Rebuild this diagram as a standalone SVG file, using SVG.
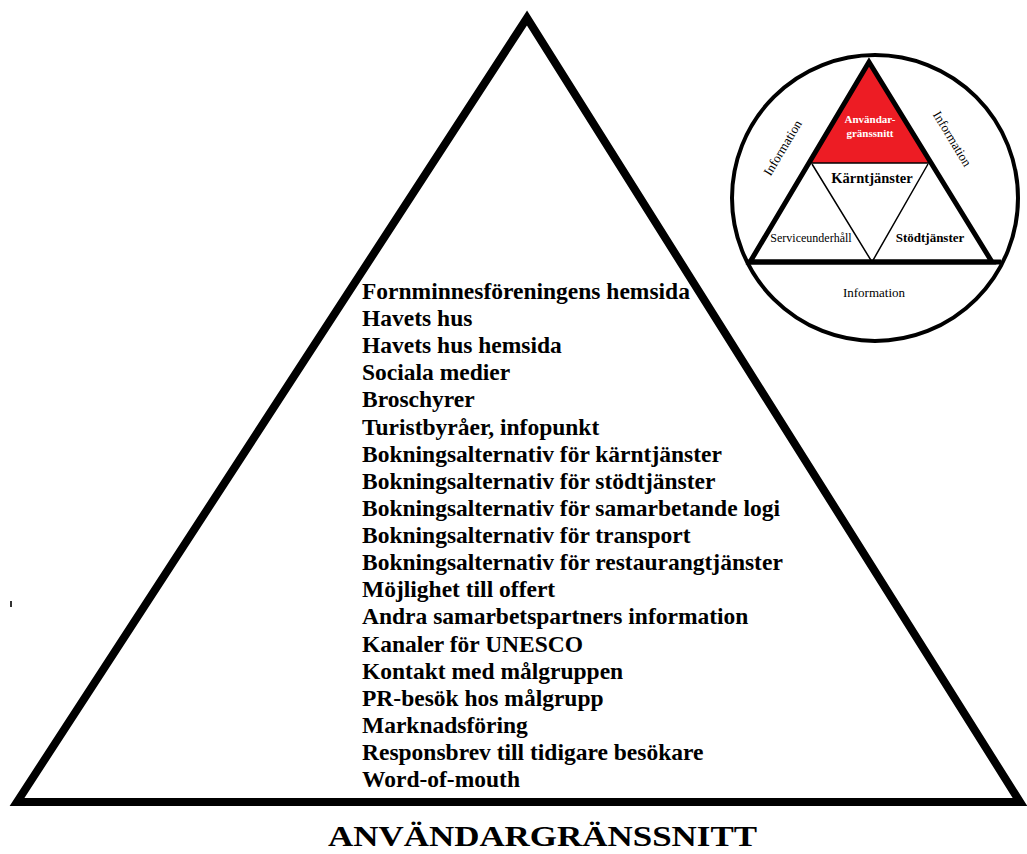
<svg xmlns="http://www.w3.org/2000/svg" width="1027" height="854" viewBox="0 0 1027 854">
<style>
.bg{fill:#fff}
.big{fill:none;stroke:#000;stroke-width:8;stroke-linejoin:miter}
.list{font-family:"Liberation Serif","Times New Roman",serif;font-weight:bold;font-size:23.5px;fill:#000}
.title{font-family:"Liberation Serif","Times New Roman",serif;font-weight:bold;font-size:29px;fill:#000}
.s{font-family:"Liberation Serif","Times New Roman",serif;fill:#000;text-anchor:middle}
.thick{stroke:#000;stroke-width:5;fill:none}
.thin{stroke:#000;stroke-width:1.5;fill:none}
</style>
<rect class="bg" x="0" y="0" width="1027" height="854"/>
<g id="pyramid">
<polygon class="big" points="527,18 17,802 1020,802"/>
<rect x="10" y="601" width="2" height="6" fill="#333"/>
</g>
<g id="list">
<text class="list" x="362" y="299">Fornminnesföreningens hemsida</text>
<text class="list" x="362" y="326">Havets hus</text>
<text class="list" x="362" y="353">Havets hus hemsida</text>
<text class="list" x="362" y="380">Sociala medier</text>
<text class="list" x="362" y="407">Broschyrer</text>
<text class="list" x="362" y="435">Turistbyråer, infopunkt</text>
<text class="list" x="362" y="462">Bokningsalternativ för kärntjänster</text>
<text class="list" x="362" y="489">Bokningsalternativ för stödtjänster</text>
<text class="list" x="362" y="516">Bokningsalternativ för samarbetande logi</text>
<text class="list" x="362" y="543">Bokningsalternativ för transport</text>
<text class="list" x="362" y="570">Bokningsalternativ för restaurangtjänster</text>
<text class="list" x="362" y="597">Möjlighet till offert</text>
<text class="list" x="362" y="624">Andra samarbetspartners information</text>
<text class="list" x="362" y="652">Kanaler för UNESCO</text>
<text class="list" x="362" y="679">Kontakt med målgruppen</text>
<text class="list" x="362" y="706">PR-besök hos målgrupp</text>
<text class="list" x="362" y="733">Marknadsföring</text>
<text class="list" x="362" y="760">Responsbrev till tidigare besökare</text>
<text class="list" x="362" y="787">Word-of-mouth</text>
</g>
<g id="title">
<text class="title" x="328" y="846" textLength="429" lengthAdjust="spacingAndGlyphs">ANVÄNDARGRÄNSSNITT</text>
</g>
<g id="model">
<polygon points="869,64 810,163 930,163" fill="#ED1C24"/>
<line class="thin" x1="810" y1="163" x2="930" y2="163"/>
<polyline class="thin" points="812,164 872,262 928,164"/>
<line class="thick" x1="747" y1="262" x2="1001" y2="262"/>
<polygon class="thick" points="869,62 750,262 992,262"/>
<circle class="thick" cx="875" cy="198" r="143" style="stroke-width:4"/>
<text class="s" x="870" y="123" font-size="11" font-weight="bold" style="fill:#fff">Användar-</text>
<text class="s" x="870" y="137" font-size="11" font-weight="bold" style="fill:#fff">gränssnitt</text>
<text class="s" x="872" y="183" font-size="14.5" font-weight="bold">Kärntjänster</text>
<text class="s" x="811" y="242" font-size="12">Serviceunderhåll</text>
<text class="s" x="930" y="242" font-size="13" font-weight="bold">Stödtjänster</text>
<text class="s" x="874" y="297" font-size="13">Information</text>
<text class="s" x="783" y="152" font-size="13" transform="rotate(-59 783 148)">Information</text>
<text class="s" x="952" y="143" font-size="13" transform="rotate(59 952 139)">Information</text>
</g>
</svg>
